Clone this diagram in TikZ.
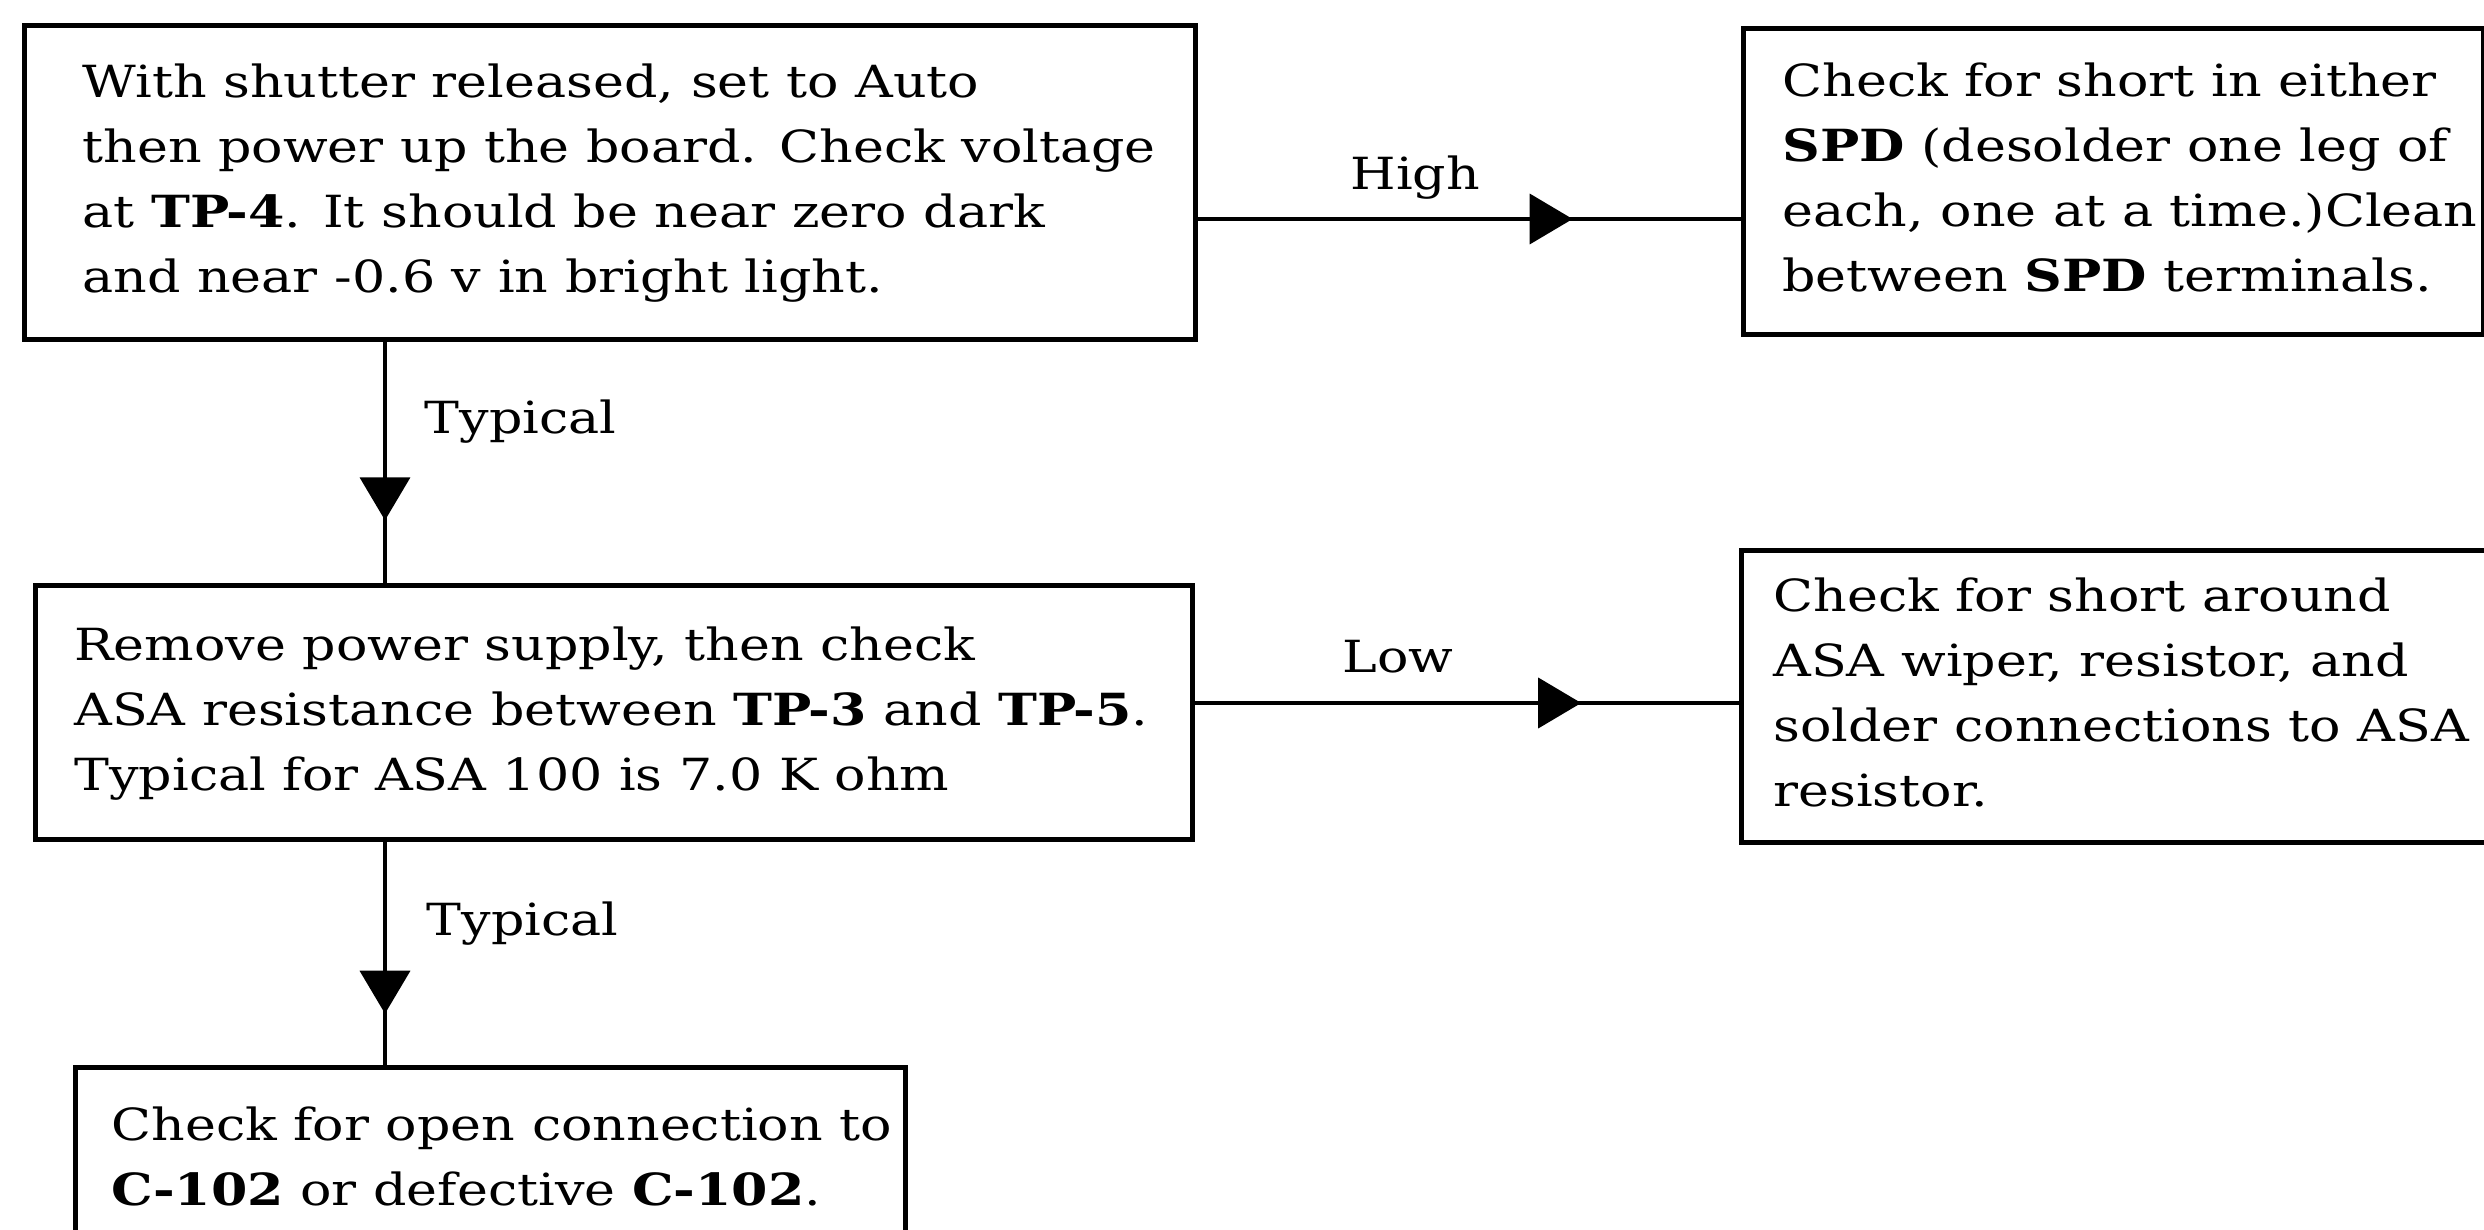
\documentclass[tikz,border=0pt]{standalone}
\usepackage{fontspec}
\setmainfont{DejaVu Serif}[FakeStretch=1.18]
\usetikzlibrary{arrows.meta, decorations.markings, calc}

% left-aligned lines in a box of fixed width (no wrapping)
\newcommand{\boxlines}[2]{\makebox[#1][l]{\begin{tabular}{@{}l@{}}#2\end{tabular}}}

\tikzset{
  box/.style={draw, line width=1.4pt, anchor=north west, inner ysep=0pt,
    font=\fontsize{12.6pt}{18.5pt}\selectfont},
  link/.style={line width=1.1pt},
  arrowat/.style={postaction={decorate}, decoration={markings,
    mark=at position #1 with {\arrow{Triangle[length=4.3mm, width=5mm]}}}},
  lbl/.style={inner sep=0pt, font=\fontsize{12.6pt}{18.5pt}\selectfont}
}

\begin{document}
\begin{tikzpicture}
  \useasboundingbox (0,0) rectangle (24.84,-12.30);
  % Left column
  \node[box, inner xsep=5.8mm, minimum height=3.14cm] (check) at (0.22,-0.23)
    {\boxlines{10.55cm}{With shutter released, set to Auto\\
      then power up the board. Check voltage\\
      at \textbf{TP-4}. It should be near zero dark\\
      and near -0.6 v in bright light.}};
  \node[box, inner xsep=3.9mm, minimum height=2.54cm] (resist) at (0.33,-5.83)
    {\boxlines{10.79cm}{Remove power supply, then check\\
      ASA resistance between \textbf{TP-3} and \textbf{TP-5}.\\
      Typical for ASA 100 is 7.0 K ohm}};
  \node[box, inner xsep=3.6mm, minimum height=1.86cm] (open) at (0.73,-10.65)
    {\boxlines{7.58cm}{Check for open connection to\\
      \textbf{C-102} or defective \textbf{C-102}.}};
  % Right column
  \node[box, inner xsep=3.9mm, minimum height=3.06cm] (spd) at (17.41,-0.26)
    {\boxlines{6.62cm}{Check for short in either\\
      \textbf{SPD} (desolder one leg of\\
      each, one at a time.)Clean\\
      between \textbf{SPD} terminals.}};
  \node[box, inner xsep=3.2mm, minimum height=2.92cm] (around) at (17.39,-5.48)
    {\boxlines{6.96cm}{Check for short around\\
      ASA wiper, resistor, and\\
      solder connections to ASA\\
      resistor.}};

  % Connectors
  \coordinate (vx) at (3.85,0);
  \coordinate (hhigh) at (0,-2.19);
  \coordinate (hlow) at (0,-7.03);
  \draw[link, arrowat=0.69] (check.east |- hhigh) --
    node[lbl, pos=0.40, anchor=base, yshift=0.29cm] {High} (spd.west |- hhigh);
  \draw[link, arrowat=0.71] (resist.east |- hlow) --
    node[lbl, pos=0.373, anchor=base, yshift=0.31cm] {Low} (around.west |- hlow);
  \draw[link, arrowat=0.74] (check.south -| vx) --
    node[lbl, pos=0.38, anchor=base west, xshift=0.38cm] {Typical} (resist.north -| vx);
  \draw[link, arrowat=0.77] (resist.south -| vx) --
    node[lbl, pos=0.42, anchor=base west, xshift=0.40cm] {Typical} (open.north -| vx);
\end{tikzpicture}
\end{document}
